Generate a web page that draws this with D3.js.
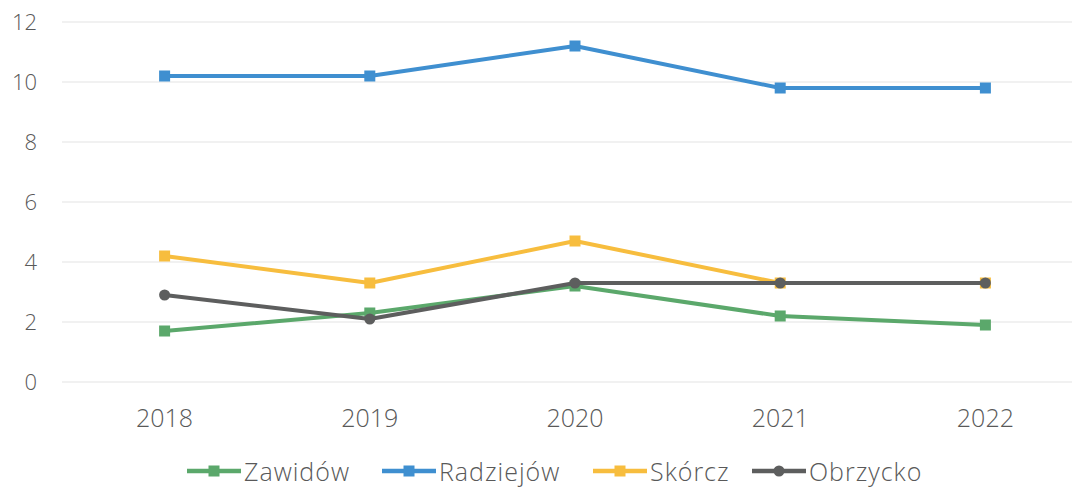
<!DOCTYPE html>
<html>
<head>
<meta charset="utf-8">
<script src="https://cdn.jsdelivr.net/npm/d3@7"></script>
<style>
  body { margin: 0; background: #fff; }
  text { font-family: "Open Sans", sans-serif; font-weight: 300; fill: #595959; }
</style>
</head>
<body>
<div id="chart"></div>
<script>
var years = ["2018", "2019", "2020", "2021", "2022"];
var yTicks = [0, 2, 4, 6, 8, 10, 12];
var seriesNames = ["Zawidów", "Radziejów", "Skórcz", "Obrzycko"];
var zawidow = [1.7, 2.3, 3.2, 2.2, 1.9];
var radziejow = [10.2, 10.2, 11.2, 9.8, 9.8];
var skorcz = [4.2, 3.3, 4.7, 3.3, 3.3];
var obrzycko = [2.9, 2.1, 3.3, 3.3, 3.3];
var colors = ["#5ba86b", "#3f8fd0", "#f7bd3e", "#5d5e5e"];
var shapes = ["square", "square", "square", "circle"];

var width = 1072, height = 488;
var series = [zawidow, radziejow, skorcz, obrzycko].map(function (v, i) {
  return { name: seriesNames[i], values: v, color: colors[i], shape: shapes[i] };
});

var x = d3.scaleBand().domain(years).range([62, 1088]);
var y = d3.scaleLinear().domain([0, 12]).range([382, 22]);

var svg = d3.select("#chart").append("svg")
  .attr("width", width)
  .attr("height", height);

// gridlines
svg.append("g")
  .selectAll("line")
  .data(yTicks)
  .enter().append("line")
  .attr("x1", 62)
  .attr("x2", width)
  .attr("y1", function (d) { return y(d); })
  .attr("y2", function (d) { return y(d); })
  .attr("stroke", "#ececec")
  .attr("stroke-width", 1.5);

// y axis labels
var yAxis = svg.append("g")
  .attr("transform", "translate(37,0)")
  .call(d3.axisLeft(y).tickValues(yTicks).tickSize(0).tickPadding(0));
yAxis.select(".domain").remove();
yAxis.selectAll("text").style("font-size", "22px").attr("fill", "#595959");

// x axis labels
var xAxis = svg.append("g")
  .attr("transform", "translate(0,409)")
  .call(d3.axisBottom(x).tickSize(0).tickPadding(0));
xAxis.select(".domain").remove();
xAxis.selectAll("text").style("font-size", "25px").attr("fill", "#595959");

var line = d3.line()
  .x(function (d, i) { return x(years[i]) + x.bandwidth() / 2; })
  .y(function (d) { return y(d); });

function marker(sel, s) {
  if (s.shape === "circle") {
    sel.append("circle").attr("r", 5.5).attr("fill", s.color);
  } else {
    sel.append("rect").attr("x", -5.5).attr("y", -5.5)
      .attr("width", 11).attr("height", 11).attr("fill", s.color);
  }
}

series.forEach(function (s) {
  var g = svg.append("g");
  g.append("path")
    .datum(s.values)
    .attr("d", line)
    .attr("fill", "none")
    .attr("stroke", s.color)
    .attr("stroke-width", 4)
    .attr("stroke-linejoin", "round");
  s.values.forEach(function (v, i) {
    var m = g.append("g")
      .attr("transform", "translate(" + (x(years[i]) + x.bandwidth() / 2) + "," + y(v) + ")");
    marker(m, s);
  });
});

// legend
var legendX = [187, 382, 593, 752];
var legend = svg.append("g");
series.forEach(function (s, i) {
  var g = legend.append("g").attr("transform", "translate(" + legendX[i] + ",471)");
  g.append("line")
    .attr("x1", 0).attr("x2", 54)
    .attr("stroke", s.color)
    .attr("stroke-width", 4.5);
  var m = g.append("g").attr("transform", "translate(27,0)");
  marker(m, s);
  g.append("text")
    .attr("x", 57)
    .attr("y", 10)
    .style("font-size", "25px")
    .style("letter-spacing", "1px")
    .text(s.name);
});
</script>
</body>
</html>
